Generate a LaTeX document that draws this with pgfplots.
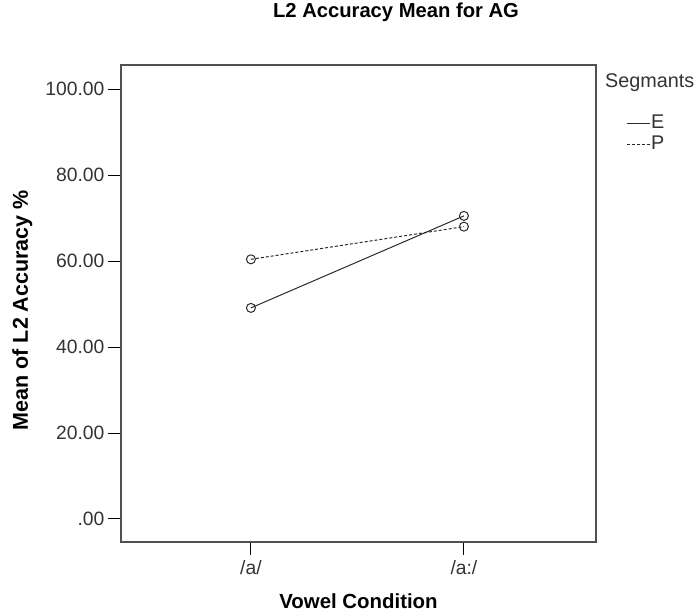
\documentclass[border=0pt]{standalone}
\usepackage{fontspec}
\setmainfont{Liberation Sans}
\usepackage{pgfplots}
\pgfplotsset{compat=1.18}
\definecolor{axgray}{HTML}{505050}
\definecolor{lngray}{HTML}{2A2A2A}
\newcommand\fs{\fontsize{19.3}{22}\selectfont}
\begin{document}
\begin{tikzpicture}
\useasboundingbox (-121pt,-73pt) rectangle (576pt,542pt);
\begin{axis}[
  scale only axis,
  width=475pt, height=477pt,
  xmin=-0.61, xmax=1.62,
  ymin=-5.35, ymax=105.6,
  xtick={0,1}, xticklabels={/a/,/a:/},
  ytick={0,20,40,60,80,100},
  yticklabels={.00,20.00,40.00,60.00,80.00,100.00},
  /pgf/number format/assume math mode=true,
  xtick pos=bottom, ytick pos=left,
  tick align=outside,
  major tick length=13pt,
  axis line style={axgray, line width=1.4pt},
  tick style={black, line width=1pt},
  ticklabel style={font=\fs, text=black!80},
  xticklabel shift=2pt,
  yticklabel shift=0pt,
  title={L2 Accuracy Mean for AG},
  title style={font=\fontsize{20.2}{24}\selectfont\bfseries, at={(axis description cs:0.579,1.087)}, anchor=base},
  xlabel={Vowel Condition},
  xlabel style={font=\fontsize{20.4}{24}\selectfont\bfseries, at={(axis description cs:0.5,-0.140)}, anchor=base},
  ylabel={Mean of L2 Accuracy \%},
  ylabel style={font=\fontsize{21.5}{24}\selectfont\bfseries, at={(axis description cs:-0.196,0.486)}, anchor=base},
  legend style={at={(axis description cs:1.063,0.899)}, anchor=north west, draw=none, fill=none,
    font=\fontsize{19.8}{22}\selectfont, inner sep=0pt, row sep=0pt,
    nodes={inner sep=1pt, text height=14pt, text depth=5pt, text=black!80}},
  legend cell align=left,
  legend image code/.code={\draw[#1] (0pt,0pt) -- (23pt,0pt);},
  clip=false,
]
\addplot[lngray, line width=1pt, mark=o, mark size=4.5pt, mark options={solid, line width=1pt}]
  coordinates {(0,49.1) (1,70.5)};
\addlegendentry{E}
\addplot[lngray, line width=1pt, dash pattern=on 3pt off 2pt, mark=o, mark size=4.5pt, mark options={solid, line width=1pt}]
  coordinates {(0,60.4) (1,68.0)};
\addlegendentry{P}
\node[font=\fontsize{19.8}{22}\selectfont, anchor=base west, inner sep=0pt, text=black!80] at (axis description cs:1.019,0.952) {Segmants};
\end{axis}
\end{tikzpicture}
\end{document}
